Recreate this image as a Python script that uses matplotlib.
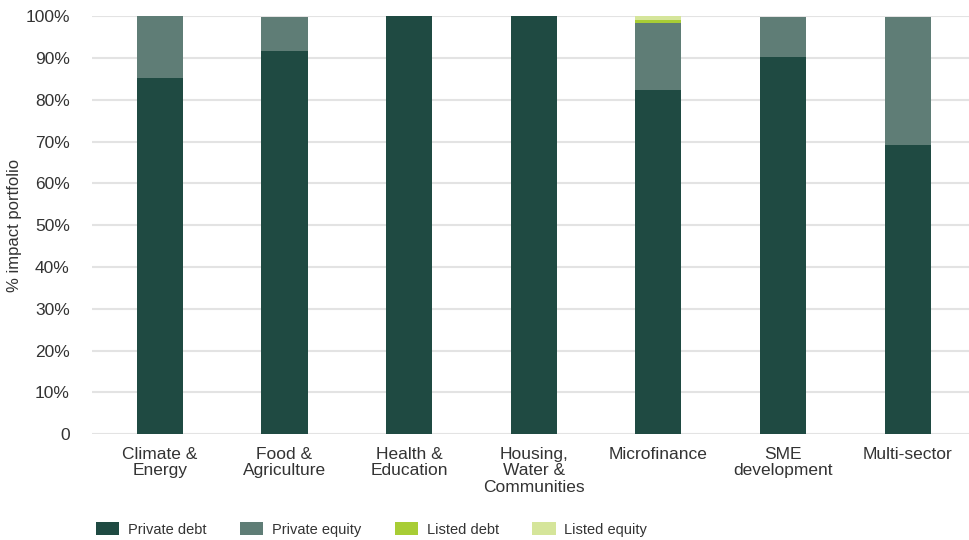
import matplotlib

matplotlib.use("Agg")
import matplotlib.pyplot as plt
import numpy as np

categories = [
    "Climate &\nEnergy",
    "Food &\nAgriculture",
    "Health &\nEducation",
    "Housing,\nWater &\nCommunities",
    "Microfinance",
    "SME\ndevelopment",
    "Multi-sector",
]
private_debt = [85.2, 91.6, 100.0, 100.0, 82.3, 90.2, 69.1]
private_equity = [15.0, 8.2, 0.0, 0.0, 16.0, 9.6, 30.7]
listed_debt = [0.0, 0.0, 0.0, 0.0, 0.7, 0.0, 0.0]
listed_equity = [0.0, 0.0, 0.0, 0.0, 1.0, 0.0, 0.0]

series = [
    ("Private debt", private_debt, "#1f4a42"),
    ("Private equity", private_equity, "#5f7d76"),
    ("Listed debt", listed_debt, "#a8cd35"),
    ("Listed equity", listed_equity, "#d5e59a"),
]

plt.rcParams["font.family"] = ["Liberation Sans", "DejaVu Sans"]
text_color = "#333333"

fig = plt.figure(figsize=(9.7, 5.4), dpi=100)
ax = fig.add_axes([0.0948, 0.196, 0.9052, 0.774])

x = np.arange(len(categories))
bottom = np.zeros(len(categories))
for label, values, color in series:
    ax.bar(x, values, width=0.37, bottom=bottom, color=color, label=label, zorder=3)
    bottom += np.array(values)

ax.set_ylim(0, 100)
ax.set_xlim(-0.545, len(categories) - 0.5)
yticks = np.arange(0, 101, 10)
ax.set_yticks(yticks, ["0"] + [f"{v}%" for v in yticks[1:]])
ax.set_xticks(x, categories)
ax.tick_params(axis="both", length=0, labelsize=12.5, colors=text_color)
ax.tick_params(axis="y", pad=16)
ax.tick_params(axis="x", pad=9)
for lab in ax.get_xticklabels():
    lab.set_linespacing(1.15)
ax.grid(axis="y", color="#e3e3e3", linewidth=1.5, zorder=0)
for spine in ax.spines.values():
    spine.set_visible(False)
ax.set_ylabel("% impact portfolio", fontsize=12, color=text_color, labelpad=2)

fig.legend(
    loc="lower left",
    bbox_to_anchor=(0.085, -0.018),
    ncol=4,
    frameon=False,
    fontsize=10.5,
    handlelength=1.6,
    handleheight=1.0,
    columnspacing=2.3,
    handletextpad=0.6,
    labelcolor=text_color,
)

fig.savefig("out.png", dpi=100)
